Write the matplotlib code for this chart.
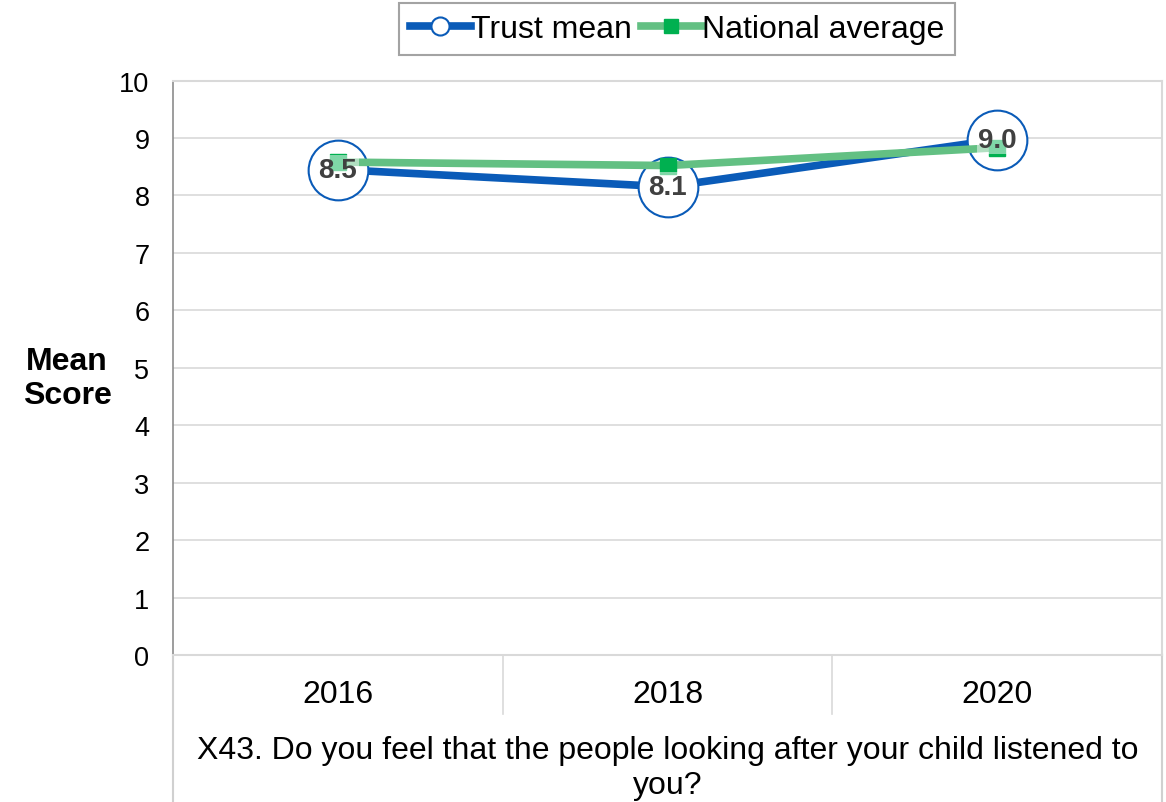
import matplotlib
matplotlib.use("Agg")
import matplotlib.pyplot as plt
from matplotlib.lines import Line2D

plt.rcParams['font.family'] = ['Liberation Sans', 'DejaVu Sans']

years = ["2016", "2018", "2020"]
trust_mean = [8.45, 8.15, 8.97]
national_avg = [8.58, 8.52, 8.83]
trust_labels = ["8.5", "8.1", "9.0"]
question = "X43. Do you feel that the people looking after your child listened to\nyou?"

BLUE = "#0A5BB8"
GREEN_LINE = "#63C083"
GREEN_MK = "#00B050"

fig = plt.figure(figsize=(11.66, 8.03), dpi=100)
ax = fig.add_axes([0.1484, 0.1831, 0.8482, 0.7154])

x = list(range(len(years)))
ax.plot(x, trust_mean, color=BLUE, lw=5.5, solid_capstyle='butt', zorder=2)
ax.plot(x, trust_mean, ls='none', marker='o', ms=43, mfc='white', mec=BLUE, mew=1.5, zorder=3)
ax.plot(x, national_avg, color=GREEN_LINE, lw=5.5, marker='s', ms=11, mfc=GREEN_MK, mec=GREEN_MK,
        solid_capstyle='butt', zorder=4)
for xi, yi, lab in zip(x, trust_mean, trust_labels):
    ax.text(xi, yi, lab, ha='center', va='center', fontsize=20, fontweight='bold', color='#404040',
            zorder=5, bbox=dict(boxstyle='square,pad=0.05', fc='white', ec='none', alpha=0.5))

ax.set_xlim(-0.5, 2.5)
ax.set_ylim(0, 10)
ax.set_yticks(range(0, 11))
ax.tick_params(axis='y', labelsize=19.5, length=0, pad=17)
ax.set_xticks(x)
ax.set_xticklabels(years, fontsize=23)
ax.tick_params(axis='x', length=0, pad=17)
ax.grid(axis='y', color='#D9D9D9', lw=1.2)
ax.set_axisbelow(True)
for s in ['top', 'right', 'bottom']:
    ax.spines[s].set_color('#D9D9D9')
    ax.spines[s].set_linewidth(1.5)
ax.spines['left'].set_color('#8C8C8C')
ax.spines['left'].set_linewidth(1.2)

ax.set_xlabel(question, fontsize=23, labelpad=19, linespacing=1.2)
ax.set_ylabel("Mean\nScore", fontsize=23, fontweight='bold', rotation=0, ha='center', va='center',
              labelpad=0, linespacing=1.2)
ax.yaxis.set_label_coords(-0.107, 0.482)

# category table lines below axis
for xb in [1/3, 2/3]:
    ax.add_line(Line2D([xb, xb], [0, -0.103], transform=ax.transAxes, color='#D9D9D9', lw=1.2, clip_on=False))
for xb in [0, 1]:
    ax.add_line(Line2D([xb, xb], [0, -0.26], transform=ax.transAxes, color='#D0D0D0', lw=1.5, clip_on=False))

h1 = Line2D([], [], color=BLUE, lw=5.5, marker='o', ms=13, mfc='white', mec=BLUE, mew=1.5)
h2 = Line2D([], [], color=GREEN_LINE, lw=5.5, marker='s', ms=10, mfc=GREEN_MK, mec=GREEN_MK)
leg = fig.legend([h1, h2], ["Trust mean", "National average"], loc='center',
                 bbox_to_anchor=(0.5805, 0.963), ncol=2, fontsize=23, frameon=True,
                 fancybox=False, edgecolor='#8C8C8C', handlelength=1.9, handletextpad=0.0,
                 columnspacing=0.3, borderpad=0.35)
leg.get_frame().set_linewidth(1.5)

fig.savefig("out.png", dpi=100)
